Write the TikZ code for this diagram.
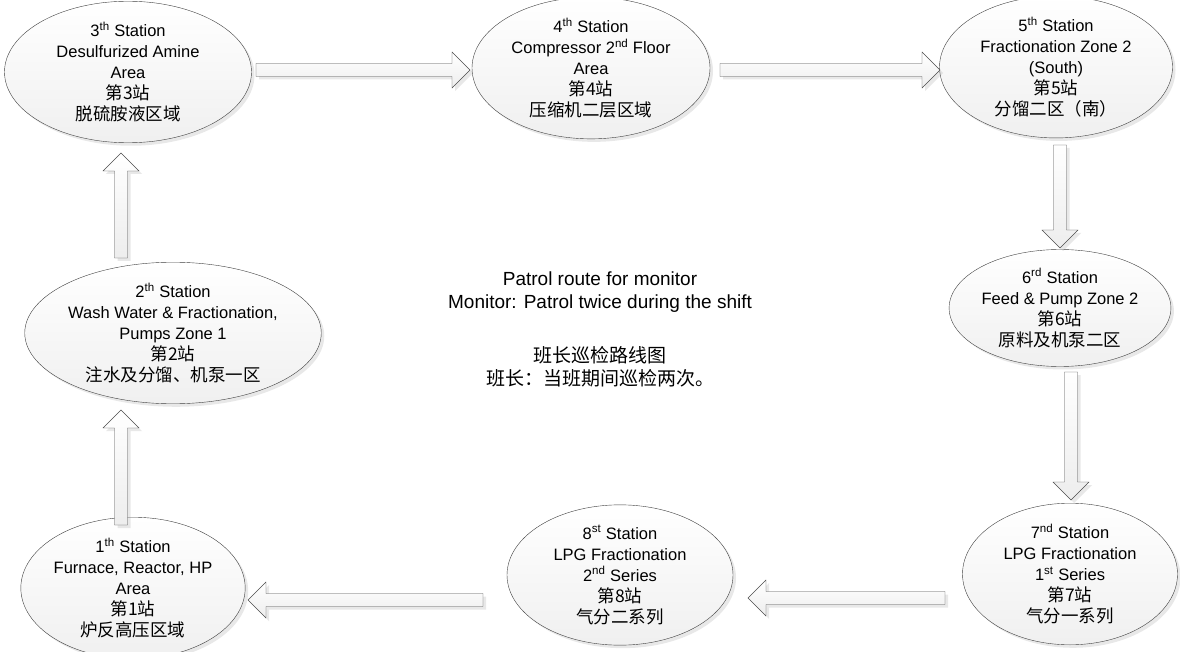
\documentclass[tikz,border=0pt]{standalone}
\usepackage{fontspec}
\setmainfont{Liberation Sans}
\newfontfamily\cjk{Noto Sans CJK SC}
\usepackage{tikz}
\usetikzlibrary{shapes,arrows,positioning,calc,shadows}

\tikzset{
    station/.style={ellipse, draw=black!75, thin, align=center, inner sep=0pt,
        top color=white, bottom color=black!6,
        drop shadow={shadow xshift=3pt, shadow yshift=-3pt, opacity=0.18},
        font=\fontsize{16.5}{21}\selectfont},
    bigarrow/.style={draw=black!70, thin, top color=white, bottom color=black!7,
        drop shadow={shadow xshift=3pt, shadow yshift=-3pt, opacity=0.18}}
}

% chinese line inside a station
\newcommand{\zh}[1]{{\cjk\fontsize{17.5}{21}\selectfont #1}}

% hollow block arrow between two points
\newcommand{\blockarrow}[2]{%
    \path[bigarrow] let \p1=(#1), \p2=(#2),
        \n1={atan2(\y2-\y1,\x2-\x1)}, \n2={veclen(\x2-\x1,\y2-\y1)} in
        [shift={(\p1)}, rotate=\n1]
        (0pt,-6.5pt) -- (\n2-18pt,-6.5pt) -- (\n2-18pt,-18pt) -- (\n2+0pt,0pt)
        -- (\n2-18pt,18pt) -- (\n2-18pt,6.5pt) -- (0pt,6.5pt) -- cycle;}

\begin{document}
\begin{tikzpicture}[x=1pt, y=-1pt]
    \useasboundingbox (0,0) rectangle (1180,652);

    % Stations
    \node [station, minimum width=220pt, minimum height=118pt] (n1) at (133,588)
        {1\textsuperscript{th} Station\\Furnace, Reactor, HP\\Area\\\zh{第1站}\\\zh{炉反高压区域}};
    \node [station, minimum width=290pt, minimum height=123pt] (n2) at (173,333)
        {2\textsuperscript{th} Station\\Wash Water \& Fractionation,\\Pumps Zone 1\\\zh{第2站}\\\zh{注水及分馏、机泵一区}};
    \node [station, minimum width=247pt, minimum height=130pt] (n3) at (128,72)
        {3\textsuperscript{th} Station\\Desulfurized Amine\\Area\\\zh{第3站}\\\zh{脱硫胺液区域}};
    \node [station, minimum width=238pt, minimum height=130pt] (n4) at (591,68)
        {4\textsuperscript{th} Station\\Compressor 2\textsuperscript{nd} Floor\\Area\\\zh{第4站}\\\zh{压缩机二层区域}};
    \node [station, minimum width=233pt, minimum height=127pt] (n5) at (1056,67)
        {5\textsuperscript{th} Station\\Fractionation Zone 2\\(South)\\\zh{第5站}\\\zh{分馏二区（南）}};
    \node [station, minimum width=220pt, minimum height=117pt] (n6) at (1060,308)
        {6\textsuperscript{rd} Station\\Feed \& Pump Zone 2\\\zh{第6站}\\\zh{原料及机泵二区}};
    \node [station, minimum width=215pt, minimum height=118pt] (n7) at (1070,574)
        {7\textsuperscript{nd} Station\\LPG Fractionation\\1\textsuperscript{st} Series\\\zh{第7站}\\\zh{气分一系列}};
    \node [station, minimum width=226pt, minimum height=120pt] (n8) at (620,575)
        {8\textsuperscript{st} Station\\LPG Fractionation\\2\textsuperscript{nd} Series\\\zh{第8站}\\\zh{气分二系列}};

    % Title in the middle
    \node [align=center, font=\fontsize{19}{23}\selectfont] (title) at (600,292)
        {Patrol route for monitor\\Monitor: Patrol twice during the shift};
    \node [align=center, font=\cjk\fontsize{19}{23}\selectfont] (titlecn) at (600,367)
        {班长巡检路线图\\班长：当班期间巡检两次。};

    % Patrol route
    \blockarrow{$(n1)+(-12,-63)$}{$(n2)+(-52,77)$}
    \blockarrow{$(n2)+(-52,-75)$}{$(n3)+(-7,81)$}
    \blockarrow{$(n3)+(128,-2)$}{$(n4)+(-121,2)$}
    \blockarrow{$(n4)+(129,2)$}{$(n5)+(-116,3)$}
    \blockarrow{$(n5)+(4,78)$}{$(n6)+(0,-60)$}
    \blockarrow{$(n6)+(11,64)$}{$(n7)+(1,-74)$}
    \blockarrow{$(n7)+(-125,24)$}{$(n8)+(128,23)$}
    \blockarrow{$(n8)+(-137,25)$}{$(n1)+(115,12)$}
\end{tikzpicture}
\end{document}
